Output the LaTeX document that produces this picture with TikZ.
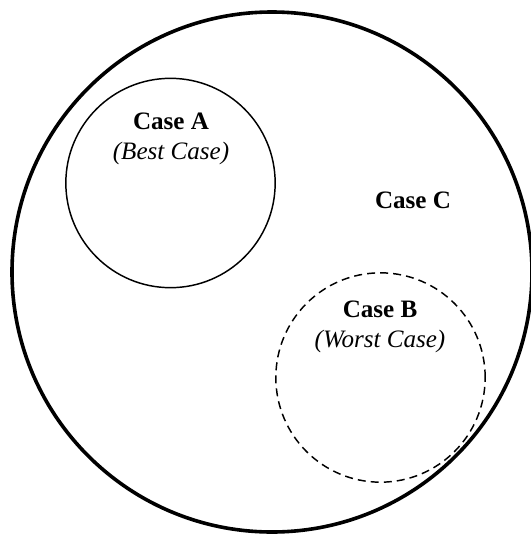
\documentclass[tikz,border=0pt]{standalone}
\usepackage{fontspec}
\setmainfont{Liberation Serif}
\usepackage{tikz}
\usetikzlibrary{positioning}
\tikzset{
  outerset/.style={
    draw=black, circle, line width=2.7pt,
    inner sep=0pt, minimum size=390pt
  },
  caseset/.style={
    draw=black, circle, line width=1.1pt,
    inner sep=0pt, minimum size=157pt
  },
  worstset/.style={
    caseset, dashed, dash pattern=on 6pt off 3.8pt
  },
  caselabel/.style={
    align=center, inner sep=0pt,
    font=\fontsize{18.8}{22}\selectfont
  }
}

\begin{document}
\begin{tikzpicture}[x=0.75pt,y=-0.75pt]
  \useasboundingbox (0,0) rectangle (531,536);
  % the whole space and the two cases inside it
  \node[outerset] (caseC) at (272,272) {};
  \node[caseset] (caseA) at (170.5,183) {};
  \node[worstset] (caseB) at (380.5,377.5) {};
  % labels
  \node[caselabel] (labelA) at (171,139) {\textbf{Case A}\\\textit{(Best Case)}};
  \node[caselabel] (labelB) at (380,327) {\textbf{Case B}\\\textit{(Worst Case)}};
  \node[caselabel] (labelC) at (413,200) {\textbf{Case C}};
\end{tikzpicture}
\end{document}
